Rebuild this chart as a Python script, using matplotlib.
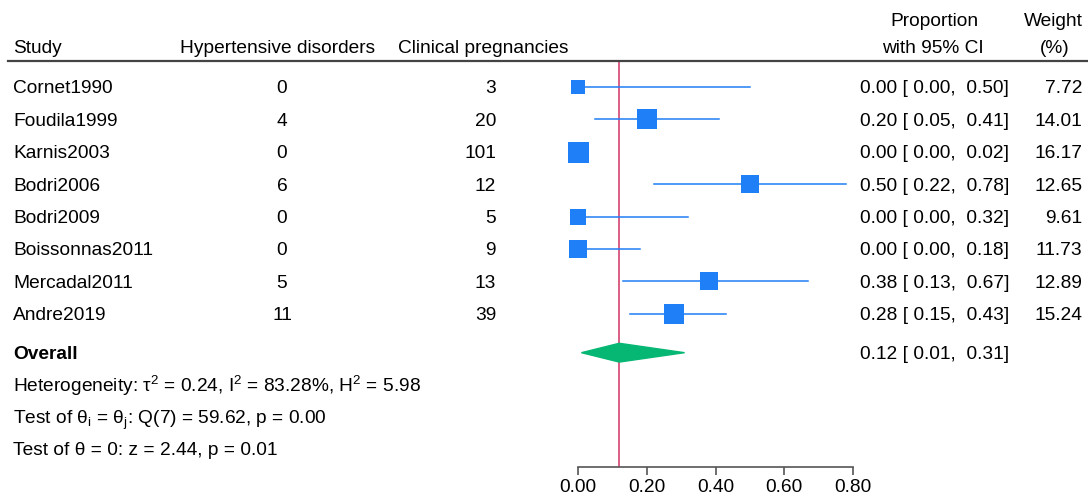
import matplotlib.pyplot as plt
import matplotlib.transforms as mtransforms
from matplotlib.lines import Line2D
from matplotlib.patches import Polygon
import numpy as np

plt.rcParams['font.family'] = ['Liberation Sans', 'DejaVu Sans']
plt.rcParams['mathtext.fontset'] = 'custom'
plt.rcParams['mathtext.rm'] = 'Liberation Sans'
plt.rcParams['mathtext.it'] = 'Liberation Sans:italic'

# data
studies = ["Cornet1990", "Foudila1999", "Karnis2003", "Bodri2006",
           "Bodri2009", "Boissonnas2011", "Mercadal2011", "Andre2019"]
events = [0, 4, 0, 6, 0, 0, 5, 11]
totals = [3, 20, 101, 12, 5, 9, 13, 39]
prop = [0.00, 0.20, 0.00, 0.50, 0.00, 0.00, 0.38, 0.28]
ci_low = [0.00, 0.05, 0.00, 0.22, 0.00, 0.00, 0.13, 0.15]
ci_high = [0.50, 0.41, 0.02, 0.78, 0.32, 0.18, 0.67, 0.43]
weights = [7.72, 14.01, 16.17, 12.65, 9.61, 11.73, 12.89, 15.24]
overall = (0.12, 0.01, 0.31)
xticks = [0.0, 0.2, 0.4, 0.6, 0.8]

W, H = 1088, 500
blue = '#1e7ff7'
green = '#06b774'
red = '#d8507a'
fs = 13.8

fig = plt.figure(figsize=(W / 100, H / 100), dpi=100)

# forest panel: x 0.00 at px 578, 0.80 at px 853; axis line at px 467, header rule at px 61
row0, step = 87, 32.4
ax = fig.add_axes([578 / W, (H - 467) / H, (853 - 578) / W, (467 - 61) / H])
ax.set_xlim(0, 0.8)
ax.set_ylim((467 - row0) / step, (61 - row0) / step)
for s in ['top', 'right', 'left']:
    ax.spines[s].set_visible(False)
ax.spines['bottom'].set_color('#555555')
ax.spines['bottom'].set_linewidth(1.2)
ax.set_yticks([])
ax.set_xticks(xticks)
ax.set_xticklabels([f"{t:.2f}" for t in xticks], fontsize=fs)
ax.tick_params(axis='x', length=6, width=1.2, color='#555555', pad=3)
ax.patch.set_alpha(0)

rows = np.arange(len(studies))
ax.axvline(overall[0], color=red, lw=1.3, zorder=1)
for r, p, lo, hi, w in zip(rows, prop, ci_low, ci_high, weights):
    ax.plot([lo, hi], [r, r], color=blue, lw=1.1, zorder=2, clip_on=False)
    side = 21 * np.sqrt(w / max(weights)) * 0.72
    ax.plot(p, r, marker='s', ms=side, color=blue, mec=blue, mew=0,
            zorder=3, clip_on=False)

r_ov = len(studies) + 0.2
est, lo, hi = overall
ax.add_patch(Polygon([[lo, r_ov], [est, r_ov - 0.29], [hi, r_ov], [est, r_ov + 0.29]],
                     closed=True, color=green, zorder=3, clip_on=False))

# text columns: x in pixels, y in row units (baseline sits 0.2 row below centre)
tr = mtransforms.blended_transform_factory(fig.transFigure, ax.transData)
bl = 0.2


def rtext(x, r, s, **kw):
    fig.text(x / W, r + bl, s, transform=tr, fontsize=fs, va='baseline', **kw)


for r, name, e, n, p, lo_, hi_, w in zip(rows, studies, events, totals,
                                          prop, ci_low, ci_high, weights):
    rtext(13, r, name)
    rtext(282, r, str(e), ha='center')
    rtext(496, r, str(n), ha='right')
    rtext(860, r, f"{p:.2f} [ {lo_:.2f},  {hi_:.2f}]")
    rtext(1082, r, f"{w:.2f}", ha='right')

rtext(13, r_ov, "Overall", weight='bold')
rtext(860, r_ov, f"{est:.2f} [ {lo:.2f},  {hi:.2f}]")
rtext(13, r_ov + 1, r"Heterogeneity: τ$^2$ = 0.24, I$^2$ = 83.28%, H$^2$ = 5.98")
rtext(13, r_ov + 2, r"Test of θ$_\mathrm{i}$ = θ$_\mathrm{j}$: Q(7) = 59.62, p = 0.00")
rtext(13, r_ov + 2.97, "Test of θ = 0: z = 2.44, p = 0.01")


# header (pixel baselines)
def htext(x, y, s, **kw):
    fig.text(x / W, 1 - y / H, s, fontsize=fs, va='baseline', **kw)


htext(13, 53, "Study")
htext(180, 53, "Hypertensive disorders")
htext(398, 53, "Clinical pregnancies")
htext(934, 26, "Proportion", ha='center')
htext(933, 53, "with 95% CI", ha='center')
htext(1053, 26, "Weight", ha='center')
htext(1055, 53, "(%)", ha='center')
fig.add_artist(Line2D([8 / W, 1], [1 - 61 / H, 1 - 61 / H], color='#444444', lw=1.6))

fig.savefig("out.png", dpi=100, facecolor='white')
